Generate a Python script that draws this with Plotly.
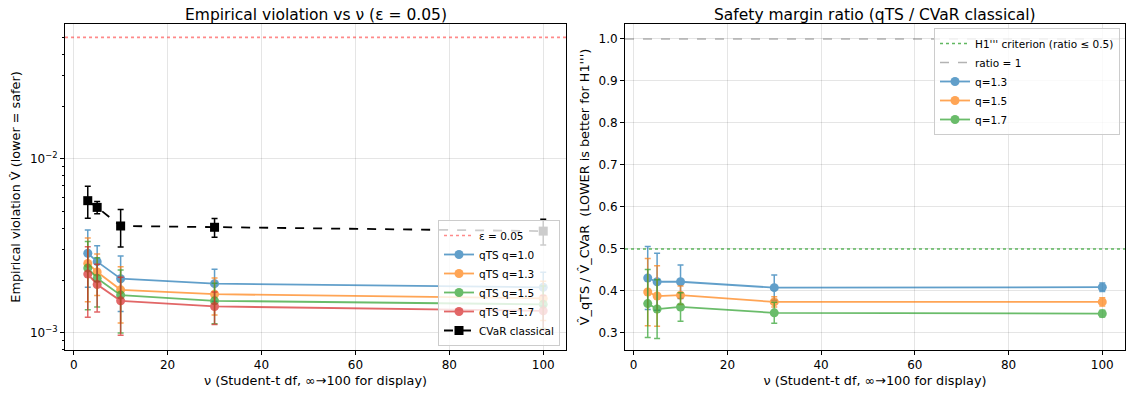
import plotly.graph_objects as go

nu = [3, 5, 10, 30, 100]

# Left panel: empirical violation (mean, error)
cvar_v = [0.00576, 0.00527, 0.00412, 0.00405, 0.00385]
cvar_e = [0.0012, 0.00043, 0.0010, 0.0005, 0.00065]
q10_v = [0.00287, 0.00257, 0.00205, 0.00192, 0.00183]
q10_e = [0.00104, 0.0006, 0.00072, 0.0004, 0.0004]
q13_v = [0.00251, 0.00224, 0.00177, 0.00167, 0.00158]
q13_e = [0.0010, 0.0006, 0.00063, 0.0004, 0.0004]
q15_v = [0.00236, 0.00206, 0.00165, 0.00153, 0.00146]
q15_e = [0.0010, 0.00065, 0.00065, 0.0004, 0.0004]
q17_v = [0.00218, 0.0019, 0.00153, 0.00142, 0.00134]
q17_e = [0.00095, 0.00058, 0.00056, 0.0003, 0.0003]
epsilon = 0.05

# Right panel: ratio qTS / CVaR
r13_v = [0.431, 0.422, 0.422, 0.408, 0.409]
r13_e = [0.075, 0.068, 0.040, 0.030, 0.010]
r15_v = [0.3975, 0.388, 0.390, 0.374, 0.374]
r15_e = [0.080, 0.072, 0.022, 0.012, 0.010]
r17_v = [0.370, 0.357, 0.362, 0.348, 0.346]
r17_e = [0.081, 0.070, 0.034, 0.025, 0.008]
criterion = 0.5
ratio_one = 1.0

colors = ["#1f77b4", "#ff7f0e", "#2ca02c", "#d62728"]
XR = [-1.85, 104.85]
FONT = "DejaVu Sans"

fig = go.Figure()

# Left panel
fig.add_trace(go.Scatter(x=XR, y=[epsilon, epsilon], mode="lines", name="ε = 0.05",
                         line=dict(color="rgba(255,60,60,0.6)", width=1.6, dash="dot"),
                         xaxis="x", yaxis="y", legend="legend"))
for name, v, e, c in [("qTS q=1.0", q10_v, q10_e, colors[0]),
                      ("qTS q=1.3", q13_v, q13_e, colors[1]),
                      ("qTS q=1.5", q15_v, q15_e, colors[2]),
                      ("qTS q=1.7", q17_v, q17_e, colors[3])]:
    fig.add_trace(go.Scatter(x=nu, y=v, name=name, mode="lines+markers", opacity=0.7,
                             line=dict(color=c, width=1.8),
                             marker=dict(color=c, size=9),
                             error_y=dict(type="data", array=e, color=c, thickness=1.5, width=3),
                             xaxis="x", yaxis="y", legend="legend"))
fig.add_trace(go.Scatter(x=nu, y=cvar_v, name="CVaR classical", mode="lines+markers",
                         line=dict(color="black", width=1.8, dash="dash"),
                         marker=dict(color="black", size=9, symbol="square"),
                         error_y=dict(type="data", array=cvar_e, color="black", thickness=1.5, width=3),
                         xaxis="x", yaxis="y", legend="legend"))

# Right panel
fig.add_trace(go.Scatter(x=XR, y=[criterion, criterion], mode="lines",
                         name="H1''' criterion (ratio ≤ 0.5)",
                         line=dict(color="rgba(44,160,44,0.75)", width=1.6, dash="dot"),
                         xaxis="x2", yaxis="y2", legend="legend2"))
fig.add_trace(go.Scatter(x=XR, y=[ratio_one, ratio_one], mode="lines", name="ratio = 1",
                         line=dict(color="rgba(128,128,128,0.6)", width=1.5, dash="dash"),
                         xaxis="x2", yaxis="y2", legend="legend2"))
for name, v, e, c in [("q=1.3", r13_v, r13_e, colors[0]),
                      ("q=1.5", r15_v, r15_e, colors[1]),
                      ("q=1.7", r17_v, r17_e, colors[2])]:
    fig.add_trace(go.Scatter(x=nu, y=v, name=name, mode="lines+markers", opacity=0.7,
                             line=dict(color=c, width=1.8),
                             marker=dict(color=c, size=9),
                             error_y=dict(type="data", array=e, color=c, thickness=1.5, width=3),
                             xaxis="x2", yaxis="y2", legend="legend2"))

W, H = 1126, 394
axcommon = dict(showline=True, linecolor="black", linewidth=1, mirror=True,
                ticks="outside", ticklen=4, tickcolor="black",
                showgrid=True, gridcolor="rgba(0,0,0,0.1)", gridwidth=1,
                zeroline=False, tickfont=dict(size=12, color="black", family=FONT),
                title_font=dict(size=12.8, color="black", family=FONT))

ld = [65 / W, 566 / W]
rd = [625 / W, 1125 / W]
yd = [44 / H, 370 / H]

minor_vals = [k * 1e-3 for k in range(2, 10)] + [k * 1e-4 for k in range(8, 10)] + [k * 1e-2 for k in range(2, 7)]

fig.update_layout(
    width=W, height=H, margin=dict(l=0, r=0, t=0, b=0),
    paper_bgcolor="white", plot_bgcolor="white",
    font=dict(family=FONT, color="black"),
    showlegend=True,
    xaxis=dict(domain=ld, range=XR, tickvals=[0, 20, 40, 60, 80, 100], anchor="y",
               title=dict(text="ν (Student-t df, ∞→100 for display)", standoff=4), **axcommon),
    yaxis=dict(domain=yd, type="log", range=[-3.098, -1.224], anchor="x",
               tickvals=[1e-3, 1e-2], ticktext=["10<sup>−3</sup>", "10<sup>−2</sup>"],
               minor=dict(tickvals=minor_vals, ticks="outside", ticklen=2, tickcolor="black", showgrid=False),
               title=dict(text="Empirical violation V\u0302 (lower = safer)", standoff=6), **axcommon),
    xaxis2=dict(domain=rd, range=XR, tickvals=[0, 20, 40, 60, 80, 100], anchor="y2",
                title=dict(text="ν (Student-t df, ∞→100 for display)", standoff=4), **axcommon),
    yaxis2=dict(domain=yd, range=[0.2595, 1.0357], anchor="x2",
                tickvals=[0.3, 0.4, 0.5, 0.6, 0.7, 0.8, 0.9, 1.0],
                ticktext=["0.3", "0.4", "0.5", "0.6", "0.7", "0.8", "0.9", "1.0"],
                title=dict(text="V\u0302_qTS / V\u0302_CVaR\u00a0\u00a0(LOWER is better for H1''')", standoff=6),
                **axcommon),
    legend=dict(x=560 / W, y=(394 - 346) / H, xanchor="right", yanchor="bottom",
                bgcolor="rgba(255,255,255,0.8)", bordercolor="#cccccc", borderwidth=1,
                font=dict(size=10.5, family=FONT), tracegroupgap=0, itemwidth=30),
    legend2=dict(x=1120 / W, y=(394 - 28) / H, xanchor="right", yanchor="top",
                 bgcolor="rgba(255,255,255,0.8)", bordercolor="#cccccc", borderwidth=1,
                 font=dict(size=10.5, family=FONT), tracegroupgap=0, itemwidth=30),
    annotations=[
        dict(text="Empirical violation vs ν (ε = 0.05)", x=(65 + 566) / 2 / W, y=(394 - 4) / H,
             xref="paper", yref="paper", xanchor="center", yanchor="top", showarrow=False,
             font=dict(size=15.5, family=FONT, color="black")),
        dict(text="Safety margin ratio (qTS / CVaR classical)", x=(625 + 1125) / 2 / W, y=(394 - 4) / H,
             xref="paper", yref="paper", xanchor="center", yanchor="top", showarrow=False,
             font=dict(size=15.5, family=FONT, color="black")),
    ],
)

fig.write_html("out.html")
